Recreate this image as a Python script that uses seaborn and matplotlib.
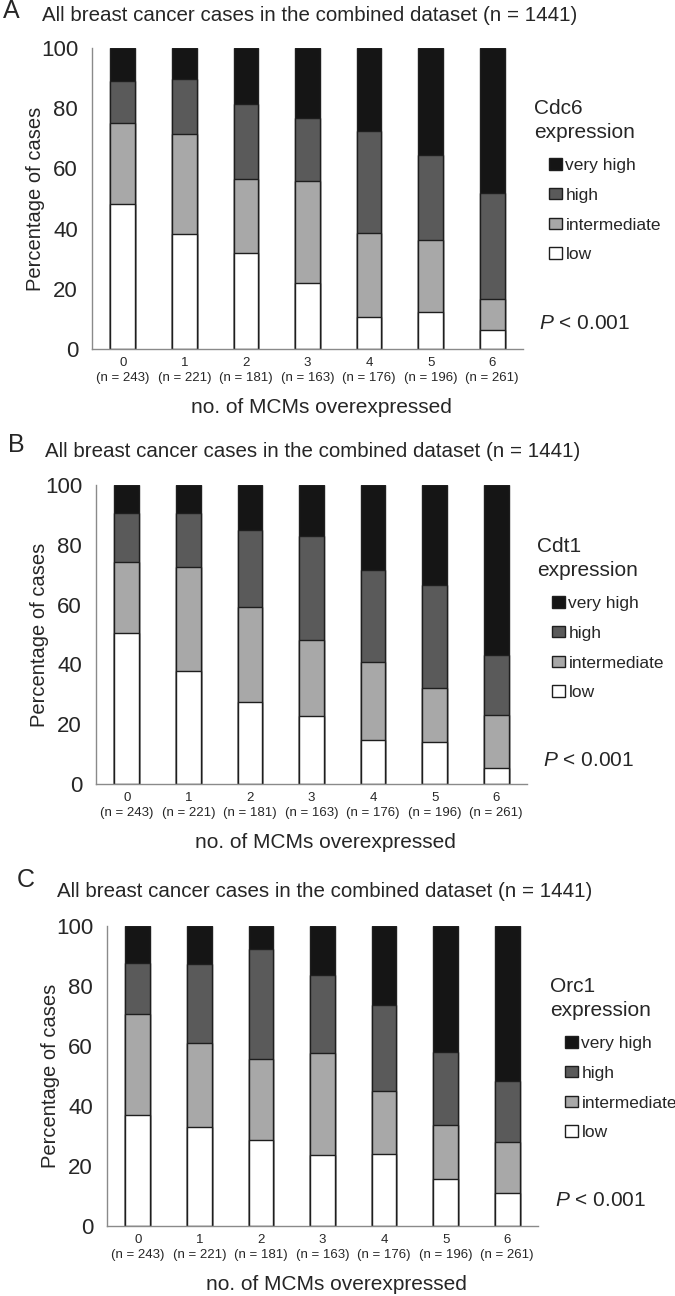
"""Cdc6 / Cdt1 / Orc1 expression by number of MCMs overexpressed
"""
import matplotlib
matplotlib.use("Agg")

import matplotlib.pyplot as plt
import numpy as np
import pandas as pd
import seaborn as sns
from matplotlib.patches import Patch


# Data (percent of cases per expression level)

mcm_counts = ["0", "1", "2", "3", "4", "5", "6"]
n_cases = [243, 221, 181, 163, 176, 196, 261]
levels = ["low", "intermediate", "high", "very high"]
level_colors = ["#ffffff", "#a8a8a8", "#5a5a5a", "#151515"]

cdc6_low = [48.1, 38.1, 31.9, 21.9, 10.6, 12.3, 6.4]
cdc6_intermediate = [27.1, 33.3, 24.5, 33.9, 28.0, 23.9, 10.2]
cdc6_high = [13.8, 18.4, 24.9, 21.1, 33.8, 28.2, 35.3]
cdc6_very_high = [11.0, 10.2, 18.7, 23.1, 27.6, 35.6, 48.1]

cdt1_low = [50.4, 37.9, 27.4, 22.6, 14.6, 14.1, 5.3]
cdt1_intermediate = [23.7, 34.7, 31.7, 25.7, 26.2, 18.0, 17.9]
cdt1_high = [16.6, 18.1, 25.9, 34.6, 30.9, 34.6, 20.0]
cdt1_very_high = [9.3, 9.3, 15.0, 17.1, 28.3, 33.3, 56.8]

orc1_low = [37.0, 32.9, 28.8, 23.8, 24.1, 15.8, 10.9]
orc1_intermediate = [33.8, 28.2, 27.0, 33.8, 21.0, 18.0, 17.0]
orc1_high = [17.0, 26.2, 36.6, 26.2, 28.6, 24.1, 20.4]
orc1_very_high = [12.2, 12.7, 7.6, 16.2, 26.3, 42.1, 51.7]

title = "All breast cancer cases in the combined dataset (n = 1441)"
x_label = "no. of MCMs overexpressed"
y_label = "Percentage of cases"
p_text = "$P$ < 0.001"

# Layout (pixels, origin top-left)

W, H = 675, 1296
PANELS = [
    dict(letter="A", gene="Cdc6",
         values=[cdc6_low, cdc6_intermediate, cdc6_high, cdc6_very_high],
         box=(92, 48, 523, 349), letter_xy=(3, 18), title_xy=(42, 21),
         leg_xy=(549, 165), p_xy=(539, 323)),
    dict(letter="B", gene="Cdt1",
         values=[cdt1_low, cdt1_intermediate, cdt1_high, cdt1_very_high],
         box=(96, 485, 527, 784), letter_xy=(8, 452), title_xy=(45, 457),
         leg_xy=(552, 603), p_xy=(543, 761)),
    dict(letter="C", gene="Orc1",
         values=[orc1_low, orc1_intermediate, orc1_high, orc1_very_high],
         box=(107, 926, 538, 1226), letter_xy=(17, 887), title_xy=(57, 897),
         leg_xy=(565, 1043), p_xy=(555, 1201)),
]

sns.set_style("white")
plt.rcParams["font.family"] = ["Liberation Sans", "DejaVu Sans"]
plt.rcParams["mathtext.fontset"] = "custom"
plt.rcParams["mathtext.it"] = "Liberation Sans:italic"
plt.rcParams["mathtext.rm"] = "Liberation Sans"

AXIS_GREY = "#8a8a8a"
EDGE = "#1e1e1e"


def px(x, y):
    return x / W, 1 - y / H


def draw_panel(fig, p):
    l, t, r, b = p["box"]
    ax = fig.add_axes([l / W, 1 - b / H, (r - l) / W, (b - t) / H])

    df = pd.DataFrame(dict(zip(levels, p["values"])))
    df["group"] = mcm_counts
    cum = df[levels].cumsum(axis=1)

    # stacked bars: draw the tallest cumulative segment first
    for level, color in reversed(list(zip(levels, level_colors))):
        sns.barplot(x=df["group"], y=cum[level], color=color, saturation=1,
                    edgecolor=EDGE, linewidth=1.0, width=0.4,
                    errorbar=None, ax=ax)

    ax.set_xlim(-0.5, 6.5)
    ax.set_ylim(0, 100)
    ax.set_yticks(range(0, 101, 20))
    ax.set_yticks(range(0, 101, 10), minor=True)
    ax.tick_params(axis="y", which="both", direction="out", length=4,
                   width=1, color=AXIS_GREY, labelsize=16, pad=6)
    ax.set_xticks(range(len(mcm_counts)))
    ax.set_xticklabels([f"{c}\n(n = {n})" for c, n in zip(mcm_counts, n_cases)],
                       fontsize=9.5, linespacing=1.25)
    ax.set_xticks(np.arange(-0.5, 7, 1), minor=True)
    ax.tick_params(axis="x", which="major", length=0, pad=6)
    ax.tick_params(axis="x", which="minor", direction="out", length=4,
                   width=1, color=AXIS_GREY)

    for side in ("top", "right"):
        ax.spines[side].set_visible(False)
    for side in ("left", "bottom"):
        ax.spines[side].set_color(AXIS_GREY)
        ax.spines[side].set_linewidth(1)

    ax.set_ylabel(y_label, fontsize=14.5)
    ax.yaxis.set_label_coords(-47 / (r - l), 0.5)
    ax.set_xlabel(x_label, fontsize=15)
    ax.xaxis.set_label_coords(0.5 + 14 / (r - l), -49 / (b - t))

    fig.text(*px(*p["letter_xy"]), p["letter"], fontsize=18, va="baseline")
    fig.text(*px(*p["title_xy"]), title, fontsize=14.8, va="baseline")

    lx, ly = p["leg_xy"]
    fig.text(*px(lx - 15, ly - 57), p["gene"], fontsize=15, va="center")
    fig.text(*px(lx - 15, ly - 33), "expression", fontsize=15, va="center")
    handles = [Patch(facecolor=c, edgecolor=EDGE, linewidth=1.0)
               for c in reversed(level_colors)]
    fig.legend(handles, list(reversed(levels)), loc="upper left",
               bbox_to_anchor=px(lx, ly - 7), frameon=False, fontsize=12.5,
               handlelength=0.75, handleheight=0.65, handletextpad=0.2,
               labelspacing=0.85, borderpad=0, borderaxespad=0)

    fig.text(*px(*p["p_xy"]), p_text, fontsize=15, va="center")
    return ax


def main():
    fig = plt.figure(figsize=(W / 100, H / 100), dpi=100)
    for p in PANELS:
        draw_panel(fig, p)
    fig.savefig("out.png", dpi=100, facecolor="white")
    plt.close(fig)


if __name__ == "__main__":
    main()
